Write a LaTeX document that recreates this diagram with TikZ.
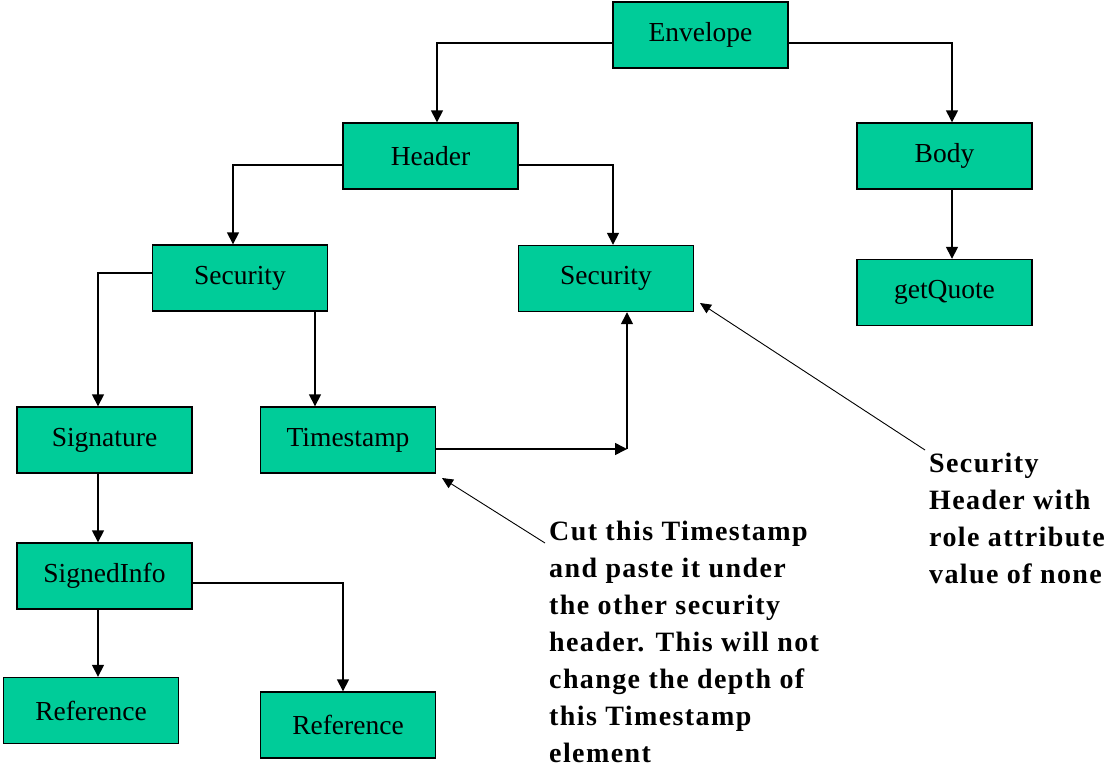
\documentclass[tikz,border=0pt]{standalone}
\usepackage{fontspec}
\setmainfont{Liberation Serif}
\newfontfamily\notefont[LetterSpace=5]{Liberation Serif}
\usetikzlibrary{arrows.meta}
\definecolor{boxgreen}{RGB}{0,204,153}
\begin{document}
\begin{tikzpicture}[x=1pt,y=-1pt,
  elem/.style={draw=black,line width=1.4pt,fill=boxgreen,
    minimum width=175pt,minimum height=66pt,inner sep=0pt,
    font=\fontsize{27.5}{32}\selectfont},
  link/.style={line width=1.5pt,-{Triangle[length=12pt,width=12pt]}},
  note/.style={align=left,anchor=north west,inner sep=0pt,
    font=\notefont\bfseries\fontsize{28}{37}\selectfont},
  pointer/.style={line width=0.9pt,-{Triangle[length=11pt,width=10pt]}}]
\useasboundingbox (0,0) rectangle (1107,769);

% element boxes
\node[elem] (env)   at (700.5,35)  {Envelope};
\node[elem] (hdr)   at (430.5,156) {Header};
\node[elem] (body)  at (944.5,156) {Body};
\node[elem] (secL)  at (240,278)   {Security};
\node[elem] (secR)  at (606,278.5) {Security};
\node[elem] (quote) at (944.5,292.5) {getQuote};
\node[elem] (sig)   at (104.5,440) {Signature};
\node[elem] (ts)    at (348,440)   {Timestamp};
\node[elem] (si)    at (104.5,576) {SignedInfo};
\node[elem] (ref1)  at (91,710.5)  {Reference};
\node[elem] (ref2)  at (348,725)   {Reference};

% tree connectors
\draw[link] ([yshift=-8pt]env.west) -| ([xshift=6.5pt]hdr.north);
\draw[link] ([yshift=-8pt]env.east) -| ([xshift=7.5pt]body.north);
\draw[link] ([yshift=-9pt]hdr.west) -| ([xshift=-7pt]secL.north);
\draw[link] ([yshift=-9pt]hdr.east) -| ([xshift=7pt]secR.north);
\draw[link] ([xshift=7.5pt]body.south) -- ([xshift=7.5pt]quote.north);
\draw[link] ([yshift=5pt]secL.west) -| ([xshift=-6.5pt]sig.north);
\draw[link] ([xshift=75pt]secL.south) -- ([xshift=75pt]secL.south |- ts.north);
\draw[link] ([xshift=-6.5pt]sig.south) -- ([xshift=-6.5pt]si.north);
\draw[link] ([xshift=-6.5pt]si.south) -- ([xshift=7pt]ref1.north);
\draw[link] ([yshift=-7pt]si.east) -| ([xshift=-5pt]ref2.north);

% moving the timestamp across
\coordinate (bend) at (627,449);
\draw[link] ([yshift=-9pt]ts.east) -- (bend);
\draw[link] (bend) -- (bend |- secR.south);

% notes
\node[note] (cutnote) at (549,521) {Cut this Timestamp\\and paste it under\\the other security\\header. This will not\\change the depth of\\this Timestamp\\element};
\node[note] (secnote) at (929,453) {Security\\Header with\\role attribute\\value of none};

\coordinate (cuttail) at (545,543);
\coordinate (cuttip) at (442,478);
\coordinate (sectail) at (925,450);
\coordinate (sectip) at (700,303);
\draw[pointer] (cuttail) -- (cuttip);
\draw[pointer] (sectail) -- (sectip);
\end{tikzpicture}
\end{document}
